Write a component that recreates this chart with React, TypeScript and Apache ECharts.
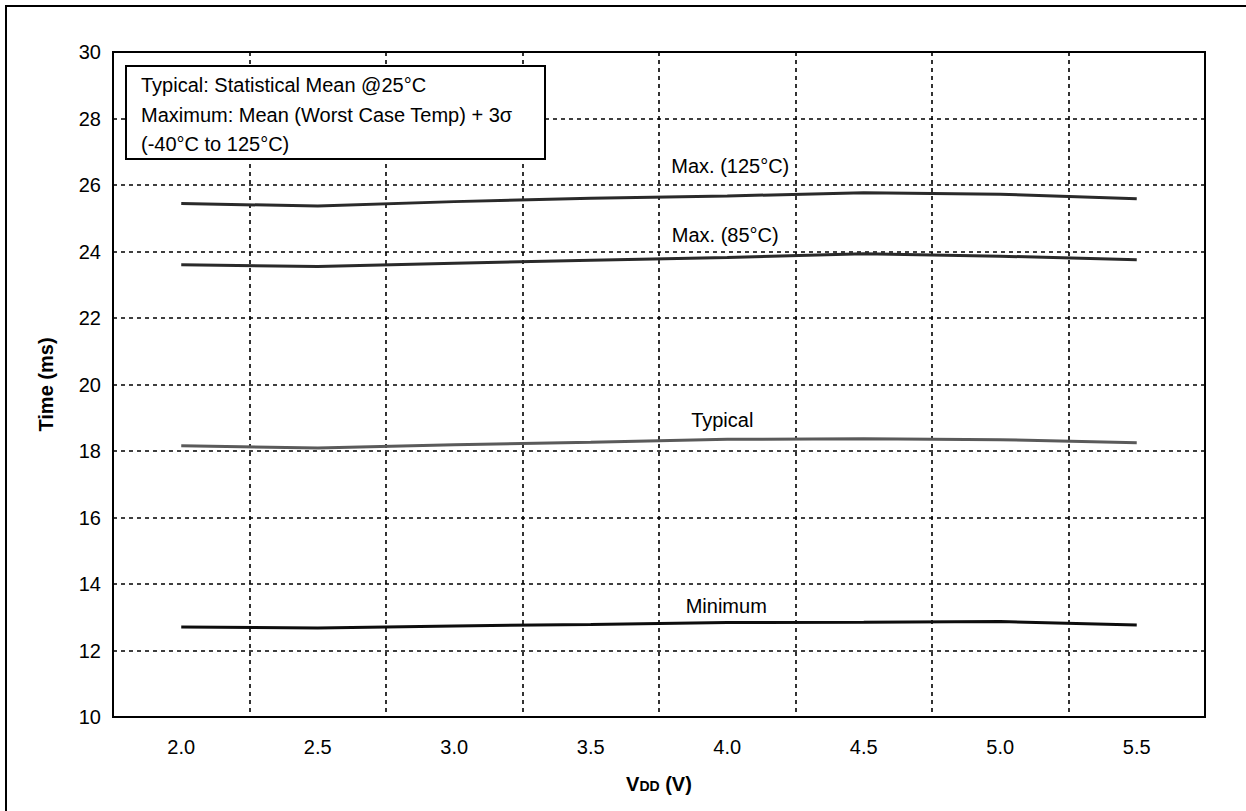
import React, { useEffect, useRef } from "react";
import * as echarts from "echarts";

const vddCategories = ["2.0", "2.5", "3.0", "3.5", "4.0", "4.5", "5.0", "5.5"];
const max125Values = [25.44, 25.37, 25.5, 25.6, 25.67, 25.77, 25.72, 25.59];
const max85Values = [23.6, 23.55, 23.65, 23.74, 23.82, 23.93, 23.86, 23.75];
const typicalValues = [18.16, 18.09, 18.19, 18.26, 18.35, 18.37, 18.34, 18.25];
const minimumValues = [12.71, 12.68, 12.74, 12.78, 12.84, 12.85, 12.87, 12.77];
const seriesNames = ["Max. (125°C)", "Max. (85°C)", "Typical", "Minimum"];
const seriesColors = ["#2a2a2a", "#2a2a2a", "#5a5a5a", "#0d0d0d"];
const labelIndex = 4;
const labelDx = [3, -2, -5, -1];
const labelDy = [-30, -22, -19, -17];
const noteLines = [
  "Typical: Statistical Mean @25°C",
  "Maximum: Mean (Worst Case Temp) + 3σ",
  "(-40°C to 125°C)",
];

const FONT = "Liberation Sans, Arial, Helvetica, sans-serif";

export default function App() {
  const ref = useRef<HTMLDivElement>(null);
  useEffect(() => {
    if (!ref.current) return;
    const chart = echarts.init(ref.current, null, { renderer: "svg" });
    const allValues = [max125Values, max85Values, typicalValues, minimumValues];
    const dashed = { color: "#000", width: 1.6, type: [4, 4] as any };
    const baseGraphic: any[] = [
      {
        type: "rect",
        id: "frame",
        shape: { x: 6, y: 6, width: 1260, height: 830 },
        style: { fill: "none", stroke: "#000", lineWidth: 2 },
        silent: true,
      },
      {
        type: "rect",
        id: "notebox",
        shape: { x: 126, y: 66, width: 419, height: 93 },
        style: { fill: "#fff", stroke: "#000", lineWidth: 2 },
        z: 10,
      },
      ...noteLines.map((t, i) => ({
        type: "text",
        id: "note" + i,
        x: 141,
        y: 85 + i * 29.5,
        z: 11,
        style: {
          text: t,
          fill: "#000",
          font: `20px ${FONT}`,
          textVerticalAlign: "middle",
          verticalAlign: "middle",
        },
      })),
    ];
    chart.setOption({
      animation: false,
      backgroundColor: "#fff",
      grid: {
        left: 113,
        top: 52,
        right: 41,
        bottom: 94,
        show: true,
        borderColor: "#000",
        borderWidth: 2,
        backgroundColor: "transparent",
        z: 5,
      },
      xAxis: {
        type: "category",
        data: vddCategories,
        boundaryGap: true,
        axisLine: { show: false },
        axisTick: { show: false },
        axisLabel: { color: "#000", fontSize: 20, fontFamily: FONT, margin: 20 },
        splitLine: { show: true, lineStyle: dashed },
        name: "{v|V}{d|DD}{v| (V)}",
        nameLocation: "middle",
        nameGap: 57,
        nameTextStyle: {
          rich: {
            v: { fontSize: 20, fontWeight: "bold", fontFamily: FONT, color: "#000" },
            d: { fontSize: 14, fontWeight: "bold", fontFamily: FONT, color: "#000", padding: [4, 0, 0, 0] },
          },
        },
      },
      yAxis: {
        type: "value",
        min: 10,
        max: 30,
        interval: 2,
        axisLine: { show: false },
        axisTick: { show: false },
        axisLabel: { color: "#000", fontSize: 20, fontFamily: FONT, margin: 12 },
        splitLine: { show: true, lineStyle: dashed },
        name: "Time (ms)",
        nameLocation: "middle",
        nameGap: 57,
        nameTextStyle: { fontSize: 20, fontWeight: "bold", fontFamily: FONT, color: "#000" },
      },
      series: allValues.map((vals, i) => ({
        type: "line",
        name: seriesNames[i],
        data: vals,
        symbol: "none",
        lineStyle: { color: seriesColors[i], width: 3 },
        z: 3,
      })),
      graphic: baseGraphic,
    });
    const labelGraphics = allValues.map((vals, i) => {
      const p = chart.convertToPixel({ gridIndex: 0 }, [labelIndex, vals[labelIndex]]) as number[];
      return {
        type: "text",
        id: "lbl" + i,
        x: p[0] + labelDx[i],
        y: p[1] + labelDy[i],
        z: 8,
        style: {
          text: seriesNames[i],
          fill: "#000",
          font: `20px ${FONT}`,
          align: "center",
          textAlign: "center",
          verticalAlign: "middle",
          textVerticalAlign: "middle",
        },
      };
    });
    chart.setOption({ graphic: [...baseGraphic, ...labelGraphics] });
    return () => chart.dispose();
  }, []);
  return (
    <div
      ref={ref}
      style={{ position: "absolute", left: 0, top: 0, width: 1246, height: 811 }}
    />
  );
}
